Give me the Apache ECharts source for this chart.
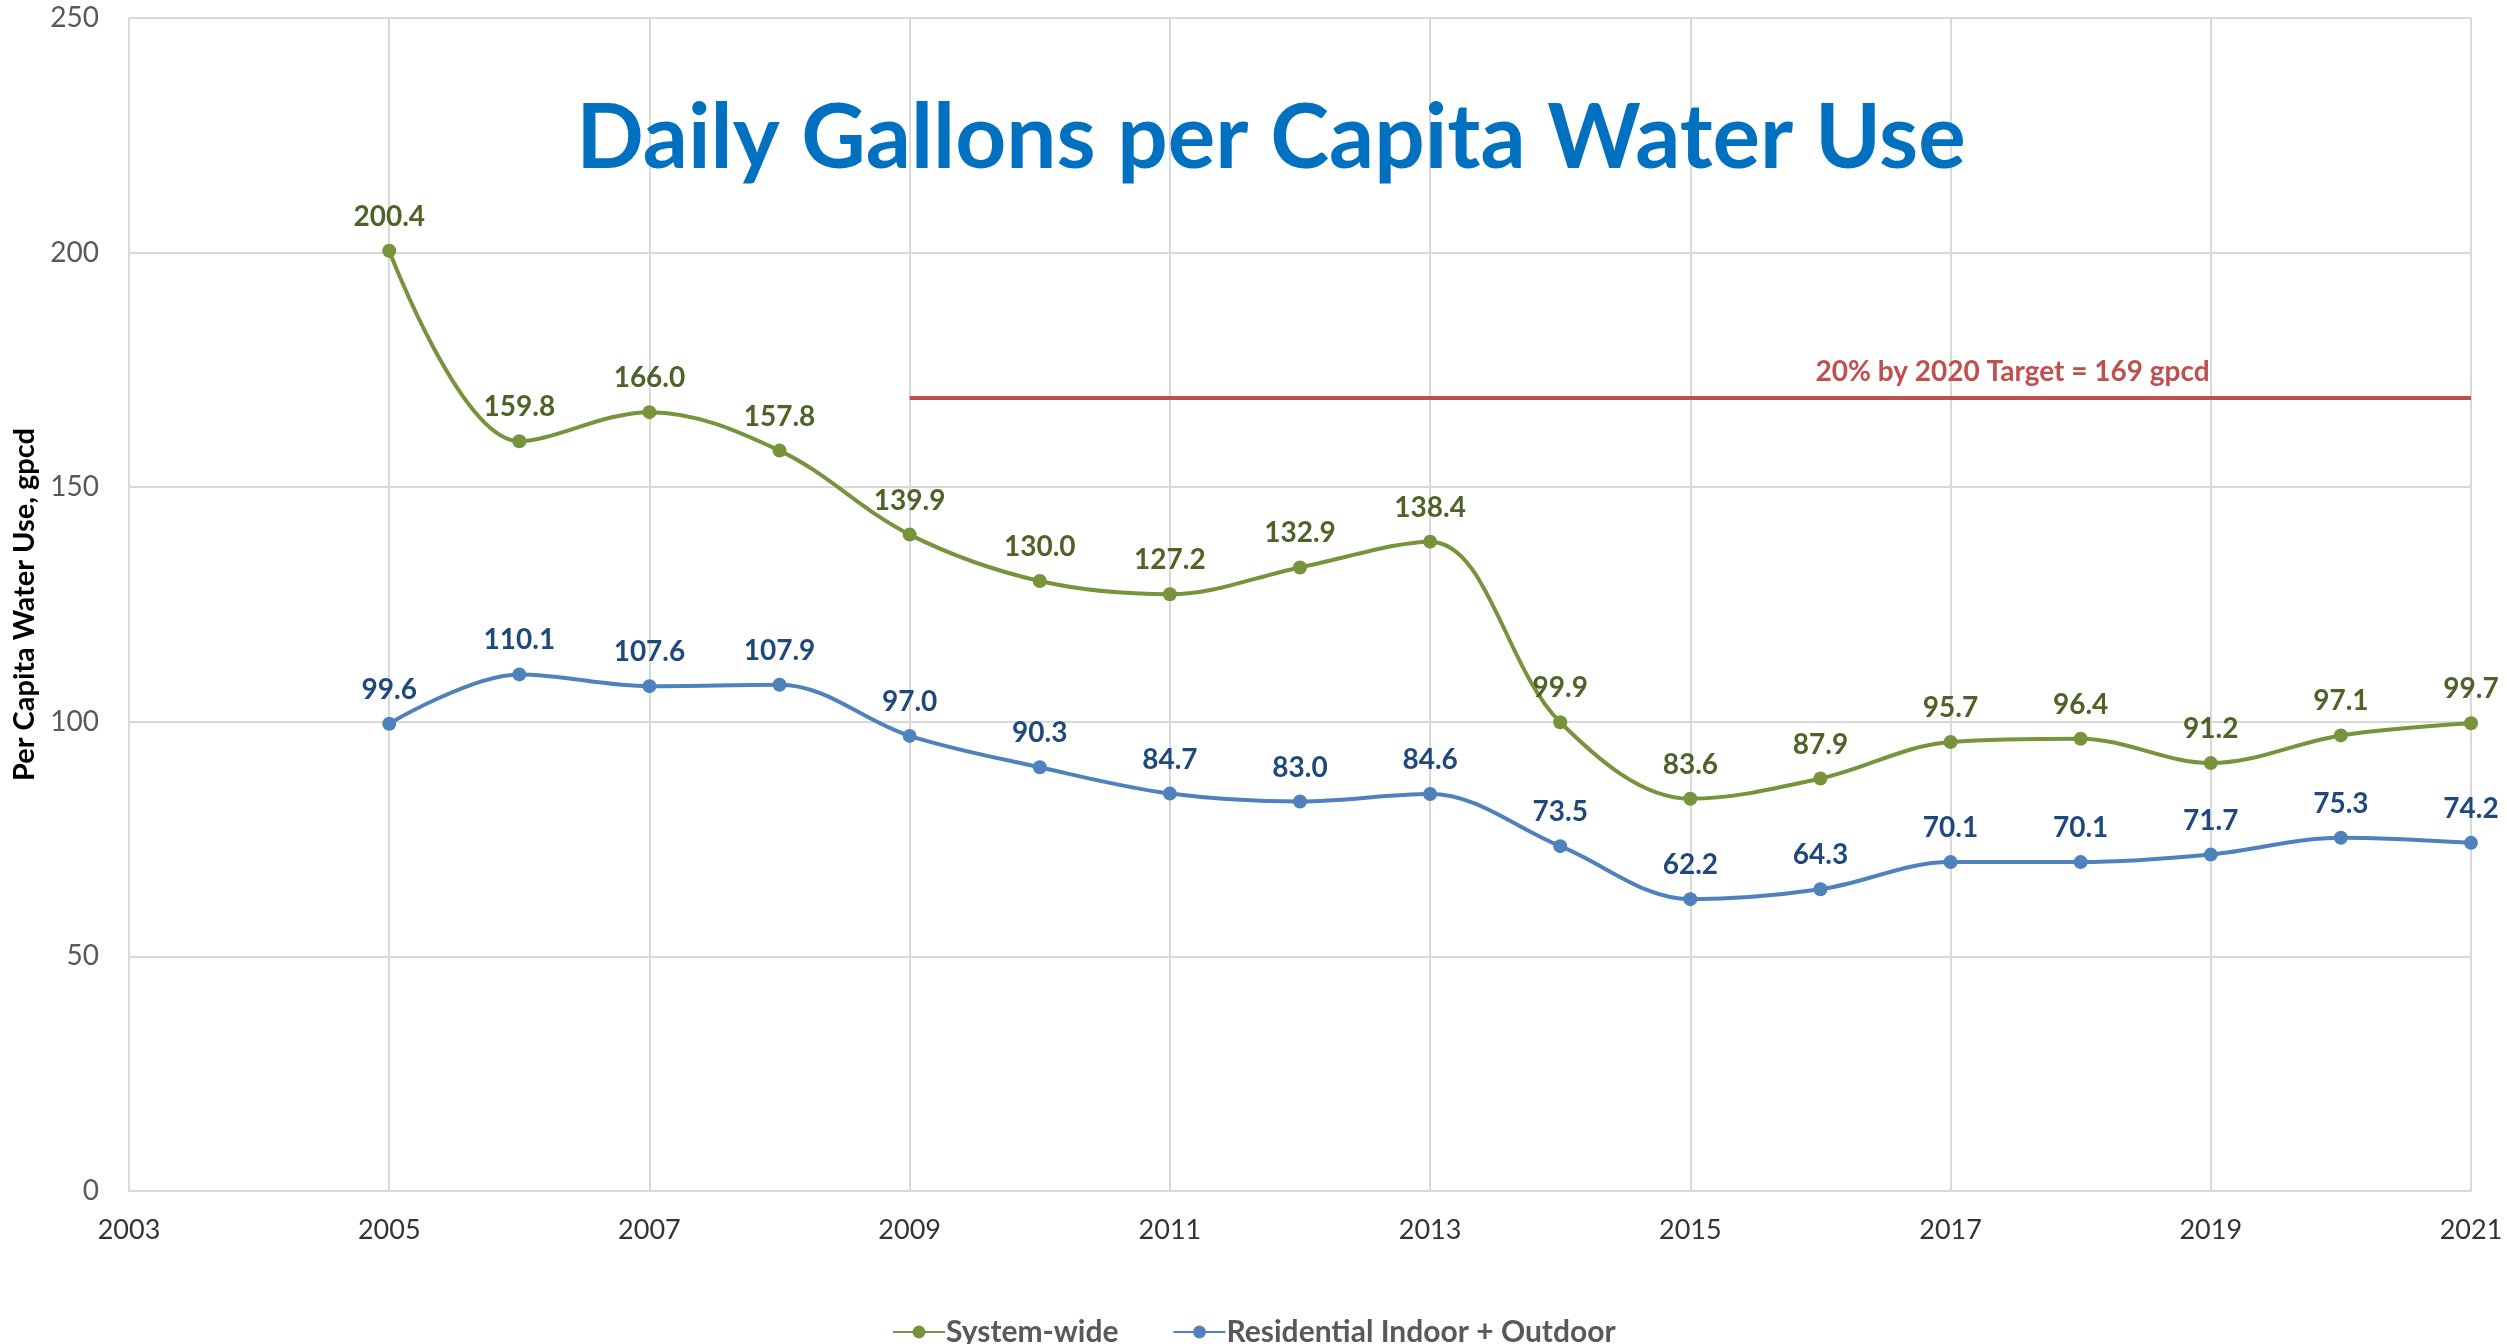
<!DOCTYPE html>
<html>
<head>
<meta charset="utf-8">
<script src="https://cdn.jsdelivr.net/npm/echarts@6/dist/echarts.min.js"></script>
<style>html,body{margin:0;padding:0;background:#fff;}#c{width:2507px;height:1344px;}</style>
</head>
<body>
<div id="c"></div>
<script>
const years = ['2003','2004','2005','2006','2007','2008','2009','2010','2011','2012','2013','2014','2015','2016','2017','2018','2019','2020','2021'];
const systemWide = [null,null,200.4,159.8,166.0,157.8,139.9,130.0,127.2,132.9,138.4,99.9,83.6,87.9,95.7,96.4,91.2,97.1,99.7];
const residential = [null,null,99.6,110.1,107.6,107.9,97.0,90.3,84.7,83.0,84.6,73.5,62.2,64.3,70.1,70.1,71.7,75.3,74.2];
const target = [null,null,null,null,null,null,169,169,169,169,169,169,169,169,169,169,169,169,169];
const targetLabelText = '20% by 2020 Target = 169 gpcd';
const targetLabelYear = '2017';
const targetValue = 169;
const yTicks = {min:0, max:250, interval:50};

const chart = echarts.init(document.getElementById('c'), null, {renderer:'canvas'});

chart.setOption({
  animation:false,
  backgroundColor:'#fff',
  title:{
    text:'Daily Gallons per Capita Water Use',
    left:1266, textAlign:'center', top:90,
    textStyle:{color:'#0070C0', fontFamily:'Lato', fontWeight:'bold', fontSize:89}
  },
  legend:{
    left:887, top:1312, itemWidth:52, itemHeight:16, itemGap:54,
    textStyle:{color:'#595959', fontFamily:'Lato', fontWeight:'bold', fontSize:30, padding:[0,0,0,-4]},
    data:['System-wide','Residential Indoor + Outdoor']
  },
  grid:{left:129, right:36, top:18, bottom:153, containLabel:false},
  xAxis:{
    type:'category', data:years, boundaryGap:false,
    axisLine:{lineStyle:{color:'#D9D9D9', width:2}},
    axisTick:{show:false},
    axisLabel:{interval:1, color:'#333333', fontFamily:'Lato', fontSize:27, margin:26},
    splitLine:{show:true, interval:1, lineStyle:{color:'#D9D9D9', width:2}}
  },
  yAxis:{
    type:'value', min:yTicks.min, max:yTicks.max, interval:yTicks.interval,
    name:'Per Capita Water Use, gpcd', nameLocation:'middle', nameGap:90, nameRotate:90,
    nameTextStyle:{color:'#000', fontFamily:'Lato', fontWeight:'bold', fontSize:29},
    axisLine:{show:true, lineStyle:{color:'#D9D9D9', width:2}},
    axisTick:{show:false},
    axisLabel:{color:'#595959', fontFamily:'Lato', fontSize:28, margin:30},
    splitLine:{lineStyle:{color:'#D9D9D9', width:2}}
  },
  series:[
    {
      name:'System-wide', type:'line', data:systemWide, smooth:0.35,
      symbol:'circle', symbolSize:14,
      lineStyle:{color:'#77933C', width:4}, itemStyle:{color:'#77933C'},
      label:{show:true, position:'top', distance:13, color:'#4F6228', fontFamily:'Lato', fontWeight:'bold', fontSize:28, formatter:p=>p.value==null?'':p.value.toFixed(1)},
      z:3
    },
    {
      name:'Residential Indoor + Outdoor', type:'line', data:residential, smooth:0.35,
      symbol:'circle', symbolSize:14,
      lineStyle:{color:'#4F81BD', width:4}, itemStyle:{color:'#4F81BD'},
      label:{show:true, position:'top', distance:13, color:'#1F497D', fontFamily:'Lato', fontWeight:'bold', fontSize:28, formatter:p=>p.value==null?'':p.value.toFixed(1)},
      z:3
    },
    {
      name:'Target', type:'line', data:target, symbol:'none',
      lineStyle:{color:'#C0504D', width:4}, itemStyle:{color:'#C0504D'},
      z:2,
      markPoint:{
        symbol:'circle', symbolSize:0, silent:true,
        data:[{coord:[targetLabelYear, targetValue]}],
        label:{show:true, formatter:targetLabelText, position:'top', distance:12, offset:[62,0], color:'#C0504D', fontFamily:'Lato', fontWeight:'bold', fontSize:28}
      }
    }
  ]
});
</script>
</body>
</html>
